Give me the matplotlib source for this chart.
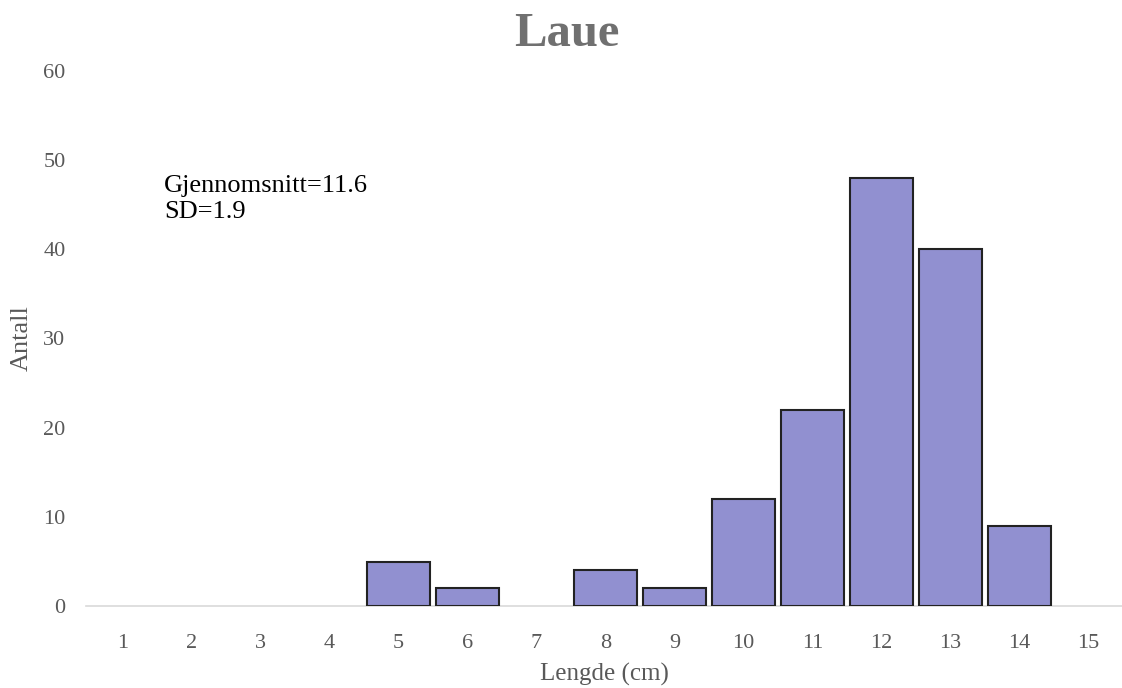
import matplotlib
matplotlib.use('Agg')
import matplotlib.pyplot as plt

# Lengdefordeling, laue
lengder = [1, 2, 3, 4, 5, 6, 7, 8, 9, 10, 11, 12, 13, 14, 15]
antall = [0, 0, 0, 0, 5, 2, 0, 4, 2, 12, 22, 48, 40, 9, 0]
y_ticks = [0, 10, 20, 30, 40, 50, 60]

plt.rcParams['font.family'] = ['Liberation Serif', 'DejaVu Serif']

GRAA = "#595959"

fig = plt.figure(figsize=(11.22, 6.88), dpi=100)
ax = fig.add_axes([0.077, 0.119, 0.925, 0.778])

pos = list(range(len(lengder)))
# tomme klasser tegnes uten kantlinje
kant = [1.5 if v > 0 else 0 for v in antall]
ax.bar(pos, antall, width=0.91, color="#9190D0", edgecolor="#222222",
       linewidth=kant, zorder=3)

ax.set_xlim(-0.52, len(lengder) - 0.48)
ax.set_ylim(0, 60)
ax.set_xticks(pos)
ax.set_xticklabels([str(l) for l in lengder])
ax.set_yticks(y_ticks)
ax.tick_params(axis="both", length=0, labelsize=16, labelcolor=GRAA)
ax.tick_params(axis="x", pad=20)
ax.tick_params(axis="y", pad=15)

for s in ["top", "right", "left"]:
    ax.spines[s].set_visible(False)
ax.spines["bottom"].set_color("#d9d9d9")
ax.spines["bottom"].set_linewidth(1.2)
ax.spines["bottom"].set_zorder(2)

# aksetitler plassert i figurkoordinater
fig.text(0.539, 0.019, "Lengde (cm)", ha="center", va="center",
         fontsize=18, color=GRAA)
fig.text(0.019, 0.508, "Antall", ha="center", va="center", rotation=90,
         fontsize=19, color=GRAA)

fig.text(0.505, 0.951, "Laue", ha="center", va="center",
         fontsize=35, fontweight="bold", color="#707070")

ax.text(0.075, 0.805, "Gjennomsnitt=11.6\nSD=1.9", transform=ax.transAxes,
        ha="left", va="top", fontsize=19, color="black", linespacing=1.2)

fig.savefig("out.png", dpi=100)
